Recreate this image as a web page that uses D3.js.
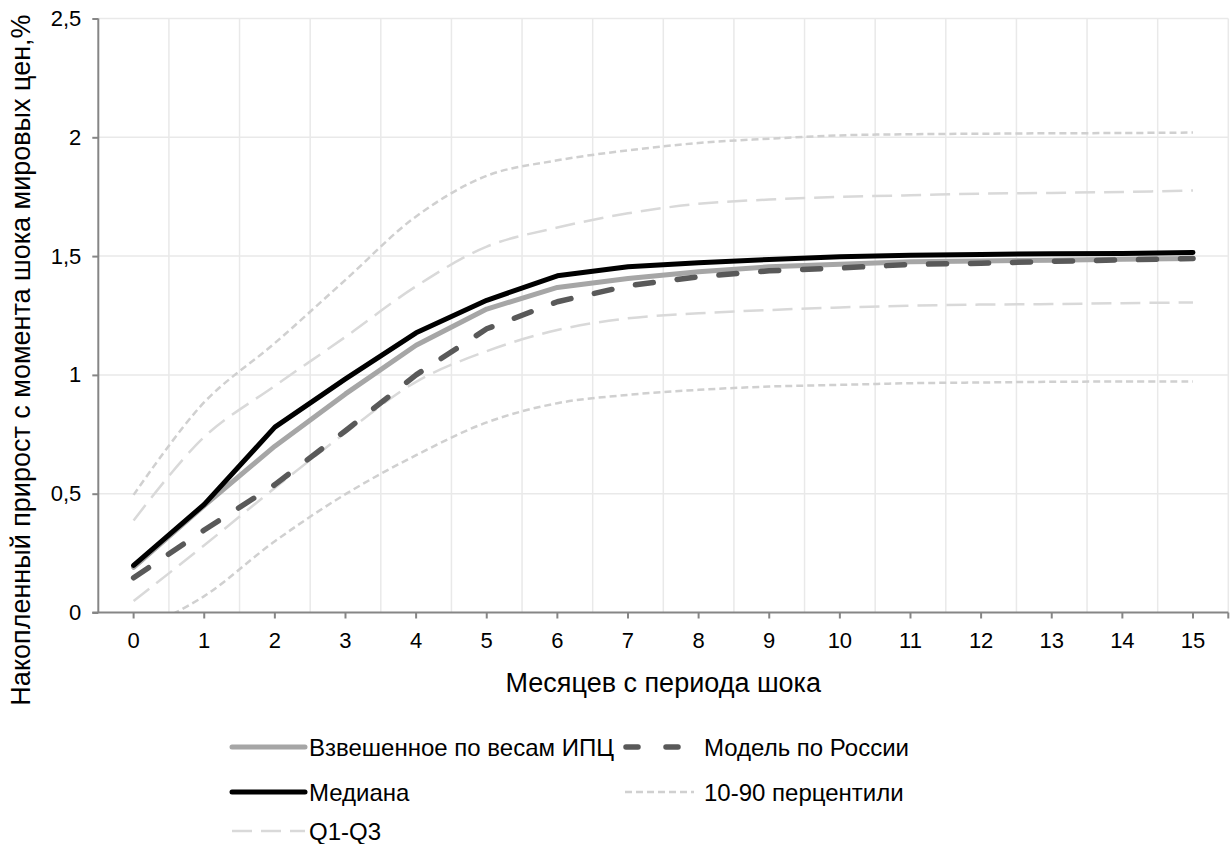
<!DOCTYPE html>
<html>
<head>
<meta charset="utf-8">
<script src="https://cdn.jsdelivr.net/npm/d3@7/dist/d3.min.js"></script>
<style>
  html, body { margin: 0; padding: 0; background: #fff; }
  svg { display: block; font-family: "Liberation Sans", Arial, sans-serif; }
</style>
</head>
<body>
<svg id="chart" width="1231" height="844"></svg>
<script>
// ---- data ----
const months = [0,1,2,3,4,5,6,7,8,9,10,11,12,13,14,15];
const yTicks = [0, 0.5, 1, 1.5, 2, 2.5];
const weighted = [0.19, 0.45, 0.70, 0.92, 1.125, 1.277, 1.368, 1.406, 1.434, 1.455, 1.466, 1.476, 1.479, 1.483, 1.487, 1.490];
const median   = [0.198, 0.455, 0.78, 0.983, 1.177, 1.314, 1.417, 1.455, 1.472, 1.486, 1.497, 1.504, 1.507, 1.51, 1.511, 1.515];
const model    = [0.146, 0.347, 0.538, 0.765, 1.0, 1.194, 1.308, 1.375, 1.413, 1.438, 1.45, 1.465, 1.47, 1.478, 1.484, 1.49];
const q3       = [0.387, 0.739, 0.954, 1.16, 1.373, 1.54, 1.62, 1.68, 1.72, 1.738, 1.749, 1.756, 1.763, 1.766, 1.77, 1.776];
const q1       = [0.048, 0.283, 0.524, 0.756, 0.971, 1.1, 1.189, 1.238, 1.259, 1.273, 1.284, 1.291, 1.296, 1.298, 1.302, 1.305];
const p90      = [0.495, 0.885, 1.134, 1.40, 1.667, 1.838, 1.903, 1.945, 1.976, 1.994, 2.008, 2.013, 2.015, 2.017, 2.018, 2.02];
const p10      = [-0.09, 0.069, 0.30, 0.498, 0.662, 0.8, 0.881, 0.916, 0.937, 0.951, 0.958, 0.965, 0.968, 0.971, 0.972, 0.972];

const labels = {
  weighted: "Взвешенное по весам ИПЦ",
  model: "Модель по России",
  median: "Медиана",
  pct: "10-90 перцентили",
  quart: "Q1-Q3",
  xTitle: "Месяцев с периода шока",
  yTitle: "Накопленный прирост с момента шока мировых цен,%"
};

(function () {
// ---- layout ----
const pL = 98.3, pR = 1228.3, pT = 18.5, pB = 612.5;
const svg = d3.select("#chart");
const x = d3.scaleBand().domain(months).range([pL, pR]).padding(0);
const y = d3.scaleLinear().domain([0, 2.5]).range([pB, pT]);
const cx = d => x(d) + x.bandwidth() / 2;
const fmt = d => String(d).replace(".", ",");
const tickFont = 22, legendFont = 24, titleFont = 27;

// gridlines
const grid = svg.append("g");
grid.selectAll("line.h").data(yTicks.filter(d => d > 0)).join("line")
  .attr("x1", pL).attr("x2", pR)
  .attr("y1", d => y(d)).attr("y2", d => y(d))
  .attr("stroke", "#e9e9e9").attr("stroke-width", 1.5);
grid.selectAll("line.v").data(months.slice(1).concat(["end"])).join("line")
  .attr("x1", d => d === "end" ? pR : x(d)).attr("x2", d => d === "end" ? pR : x(d))
  .attr("y1", pT).attr("y2", pB)
  .attr("stroke", "#e9e9e9").attr("stroke-width", 1.5);

// clip
svg.append("clipPath").attr("id", "plotclip").append("rect")
  .attr("x", pL).attr("y", 0).attr("width", pR - pL + 10).attr("height", pB);

const lineStraight = d3.line().x((d, i) => cx(months[i])).y(d => y(d));
const lineSmooth = d3.line().x((d, i) => cx(months[i])).y(d => y(d)).curve(d3.curveCatmullRom.alpha(0.5));

const series = [
  { data: p10, gen: lineSmooth, color: "#d0d0d0", w: 2.5, dash: "7,4", cap: "butt" },
  { data: p90, gen: lineSmooth, color: "#d0d0d0", w: 2.5, dash: "7,4", cap: "butt" },
  { data: q1, gen: lineSmooth, color: "#d9d9d9", w: 2.5, dash: "20,9", cap: "butt" },
  { data: q3, gen: lineSmooth, color: "#d9d9d9", w: 2.5, dash: "20,9", cap: "butt" },
  { data: weighted, gen: lineStraight, color: "#a6a6a6", w: 5, dash: null, cap: "round" },
  { data: median, gen: lineStraight, color: "#000000", w: 5, dash: null, cap: "round" },
  { data: model, gen: lineStraight, color: "#595959", w: 5.5, dash: "18,24", cap: "round" }
];

const lines = svg.append("g").attr("clip-path", "url(#plotclip)");
series.forEach(s => {
  lines.append("path").attr("d", s.gen(s.data))
    .attr("fill", "none").attr("stroke", s.color).attr("stroke-width", s.w)
    .attr("stroke-dasharray", s.dash).attr("stroke-linecap", s.cap).attr("stroke-linejoin", "round");
});

// axes
const axisColor = "#868686";
const xAxis = svg.append("g").attr("transform", `translate(0,${pB})`)
  .call(d3.axisBottom(x).tickSizeInner(6).tickSizeOuter(0).tickPadding(14));
xAxis.select(".domain").remove();
xAxis.append("line").attr("x1", pL - 6).attr("x2", pR).attr("y1", 0).attr("y2", 0)
  .attr("stroke", axisColor).attr("stroke-width", 2);
xAxis.append("line").attr("x1", pR).attr("x2", pR).attr("y1", 0).attr("y2", 6)
  .attr("stroke", axisColor).attr("stroke-width", 2);
xAxis.selectAll(".tick line").attr("stroke", axisColor).attr("stroke-width", 2);
xAxis.selectAll(".tick text").attr("font-size", tickFont).attr("fill", "#000")
  .attr("font-family", "Liberation Sans, Arial, sans-serif");

const yAxis = svg.append("g").attr("transform", `translate(${pL},0)`)
  .call(d3.axisLeft(y).tickValues(yTicks).tickFormat(fmt).tickSizeInner(6).tickSizeOuter(0).tickPadding(11));
yAxis.select(".domain").remove();
yAxis.append("line").attr("x1", 0).attr("x2", 0).attr("y1", pT).attr("y2", pB)
  .attr("stroke", axisColor).attr("stroke-width", 2);
yAxis.selectAll(".tick line").attr("stroke", axisColor).attr("stroke-width", 2);
yAxis.selectAll(".tick text").attr("font-size", tickFont).attr("fill", "#000")
  .attr("font-family", "Liberation Sans, Arial, sans-serif");

// titles
svg.append("text").attr("x", (pL + pR) / 2).attr("y", 683)
  .attr("text-anchor", "middle").attr("dominant-baseline", "central")
  .attr("font-size", titleFont).text(labels.xTitle);
svg.append("text").attr("transform", `translate(21,360) rotate(-90)`)
  .attr("text-anchor", "middle").attr("dominant-baseline", "central")
  .attr("font-size", titleFont).text(labels.yTitle);

// legend
const legendItems = [
  { text: labels.weighted, x0: 232, x1: 305, tx: 309, yy: 747, color: "#a6a6a6", w: 5, dash: null, cap: "round" },
  { text: labels.model, x0: 626, x1: 694, tx: 704, yy: 747, color: "#595959", w: 5.5, dash: "12,28", cap: "round" },
  { text: labels.median, x0: 232, x1: 305, tx: 309, yy: 792, color: "#000000", w: 5, dash: null, cap: "round" },
  { text: labels.pct, x0: 625, x1: 694, tx: 704, yy: 792, color: "#d0d0d0", w: 2.5, dash: "7,4", cap: "butt" },
  { text: labels.quart, x0: 232, x1: 305, tx: 309, yy: 831, color: "#d9d9d9", w: 2.5, dash: "20,9", cap: "butt" }
];
const lg = svg.append("g");
legendItems.forEach(d => {
  lg.append("line").attr("x1", d.x0).attr("x2", d.x1).attr("y1", d.yy).attr("y2", d.yy)
    .attr("stroke", d.color).attr("stroke-width", d.w).attr("stroke-dasharray", d.dash)
    .attr("stroke-linecap", d.cap);
  lg.append("text").attr("x", d.tx).attr("y", d.yy).attr("dominant-baseline", "central")
    .attr("font-size", legendFont).text(d.text);
});
})();
</script>
</body>
</html>
